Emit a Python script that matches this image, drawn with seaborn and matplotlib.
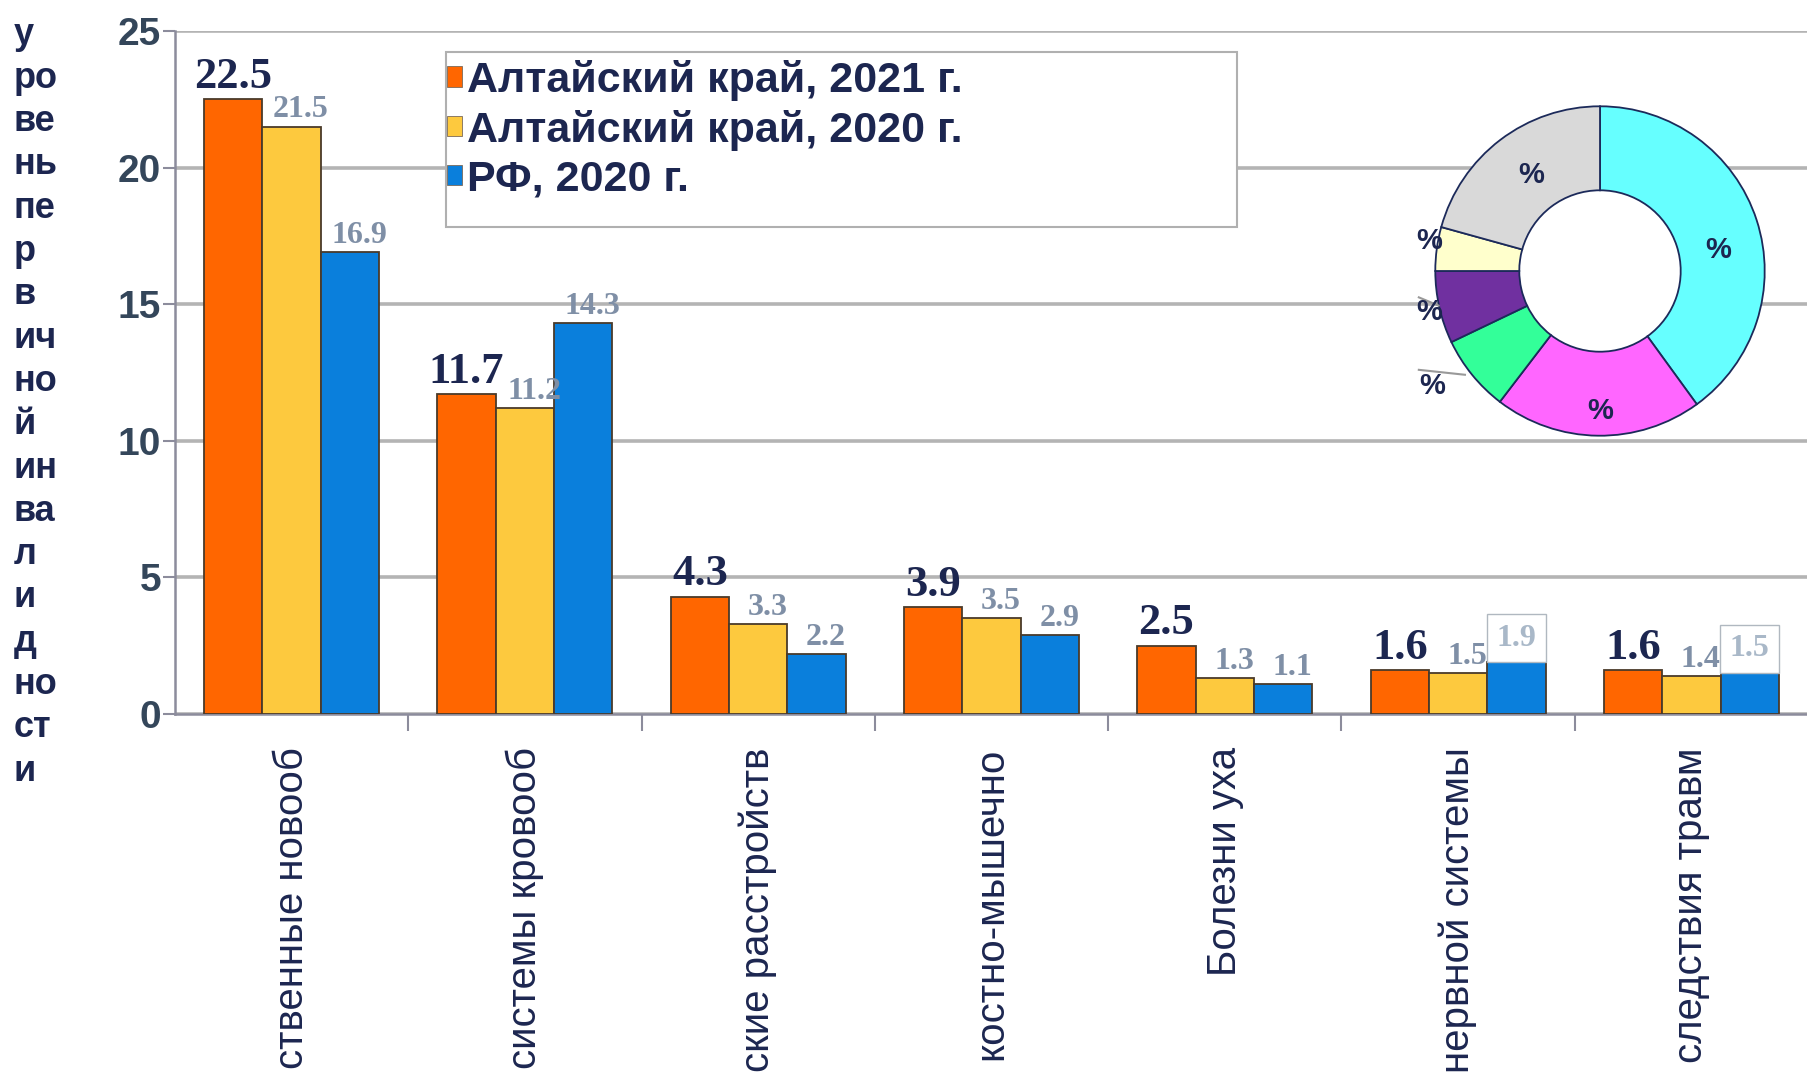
import numpy as np
import pandas as pd
import seaborn as sns
import matplotlib.pyplot as plt
from matplotlib.patches import Patch, Rectangle, Circle

# data
categories = ["ственные новооб", "системы кровооб", "ские расстройств", "костно-мышечно",
              "Болезни уха", "нервной системы", "следствия травм"]
series = ["Алтайский край, 2021 г.", "Алтайский край, 2020 г.", "РФ, 2020 г."]
alt_2021 = [22.5, 11.7, 4.3, 3.9, 2.5, 1.6, 1.6]
alt_2020 = [21.5, 11.2, 3.3, 3.5, 1.3, 1.5, 1.4]
rf_2020 = [16.9, 14.3, 2.2, 2.9, 1.1, 1.9, 1.5]
ylabel_parts = ["у", "ро", "ве", "нь", "пе", "р", "в", "ич", "но", "й", "ин", "ва", "л", "и", "д", "но", "ст", "и"]
donut_shares = [40.0, 20.4, 7.5, 7.1, 4.3, 20.7]
donut_colors = ["#66ffff", "#ff66ff", "#33ff99", "#7030a0", "#ffffcc", "#d9d9d9"]

bar_colors = ["#ff6600", "#fdc93e", "#0a7fdc"]
navy = "#1c2650"

df = pd.DataFrame({
    "cat": categories * 3,
    "val": alt_2021 + alt_2020 + rf_2020,
    "series": [s for s in series for _ in categories],
})

fig = plt.figure(figsize=(18.08, 10.76), dpi=100)
ax = fig.add_axes([175 / 1808, 362 / 1076, 1633 / 1808, 683 / 1076])

sns.barplot(data=df, x="cat", y="val", hue="series", palette=bar_colors, width=0.75,
            saturation=1, edgecolor="#4a3a2a", linewidth=1.3, ax=ax, legend=False, zorder=3)

ax.set_ylim(0, 25)
ax.set_xlim(-0.5, 6.5)
ax.set_yticks([0, 5, 10, 15, 20, 25])
ax.yaxis.grid(True, color="#b4b4b4", linewidth=2.6, zorder=0)
ax.set_axisbelow(True)
for s in ["top", "right"]:
    ax.spines[s].set_visible(False)
for s in ["left", "bottom"]:
    ax.spines[s].set_color("#8c8c9c")
    ax.spines[s].set_linewidth(1.8)
ax.set_xlabel("")
ax.set_ylabel("")
ax.tick_params(axis="y", length=9, width=1.5, color="#8c8c9c", pad=1,
               labelsize=28, labelcolor="#34465a")
for t in ax.get_yticklabels():
    t.set_fontweight("bold")
    t.set_family("Liberation Sans")
ax.set_xticks(np.arange(0.5, 6.5, 1), minor=True)
ax.tick_params(axis="x", which="minor", length=12, width=1.5, color="#8c8c9c")
ax.tick_params(axis="x", which="major", length=0, pad=24)
ax.set_xticks(range(len(categories)))
ax.set_xticklabels(categories, rotation=90, va="top", ha="center",
                   fontsize=29, color=navy, family="Liberation Sans")

# value labels
for i, cont in enumerate(ax.containers):
    for bar, v in zip(cont, [alt_2021, alt_2020, rf_2020][i]):
        x = bar.get_x() + bar.get_width() / 2
        h = bar.get_height()
        if i == 0:
            ax.text(x, h + 0.1, f"{v}", ha="center", va="bottom", fontsize=32,
                    fontweight="bold", color=navy, family="Liberation Serif", zorder=5)
        elif i == 2 and bar.get_x() > 4.6:
            ax.text(x, h + 0.35, f"{v}", ha="center", va="bottom", fontsize=23,
                    fontweight="bold", color="#a9b8c8", family="Liberation Serif", zorder=5,
                    bbox=dict(facecolor="white", edgecolor="#b0b8c0", boxstyle="square,pad=0.3"))
        else:
            ax.text(x + 0.04, h + 0.08, f"{v}", ha="center", va="bottom", fontsize=23,
                    fontweight="bold", color="#7f8fa6", family="Liberation Serif", zorder=5)

# legend
fig.patches.append(Rectangle((446 / 1808, 1 - 227 / 1076), 791 / 1808, 175 / 1076,
                             transform=fig.transFigure, facecolor="white",
                             edgecolor="#b0b0b0", linewidth=1.5, zorder=4))
handles = [Patch(facecolor=c, edgecolor="#7a6a5a", linewidth=0.6) for c in bar_colors]
leg = fig.legend(handles, series, loc="upper left", bbox_to_anchor=(447 / 1808, 1 - 60 / 1076),
                 frameon=False, prop={"family": "Liberation Sans", "weight": "bold", "size": 31},
                 handlelength=0.35, handleheight=0.35, handletextpad=0.12, labelspacing=0.2,
                 borderpad=0.0, borderaxespad=0.0)
for t in leg.get_texts():
    t.set_color(navy)
leg.set_zorder(5)

# y label, stacked pieces
for k, part in enumerate(ylabel_parts):
    fig.text(14 / 1808, 1 - (35 + 43.3 * k) / 1076, part, ha="left", va="center",
             fontsize=26, fontweight="bold", color=navy, family="Liberation Sans")

# donut
dax = fig.add_axes([1432 / 1808, 1 - 439 / 1076, 336 / 1808, 336 / 1076])
dax.pie(donut_shares, colors=donut_colors, startangle=90, counterclock=False,
        wedgeprops=dict(width=0.51, edgecolor="#1c2a5a", linewidth=1.3))
dax.add_patch(Circle((0, 0), 0.49, facecolor="white", edgecolor="none", zorder=0))
dax.set_xlim(-1.02, 1.02)
dax.set_ylim(-1.02, 1.02)
pct_pos = [(0.72, 0.13), (0.0, -0.85), (-0.42, 0.58), (-1.04, 0.18), (-1.04, -0.25), (-1.02, -0.70)]
for (px, py) in pct_pos:
    dax.text(px, py, "%", ha="center", va="center", fontsize=21, fontweight="bold",
             color=navy, family="Liberation Sans", clip_on=False)
dax.plot([-1.10, -0.98], [-0.16, -0.21], color="#999999", lw=1.5, clip_on=False)
dax.plot([-1.10, -0.82], [-0.60, -0.63], color="#999999", lw=1.5, clip_on=False)

plt.savefig("out.png", dpi=100)
